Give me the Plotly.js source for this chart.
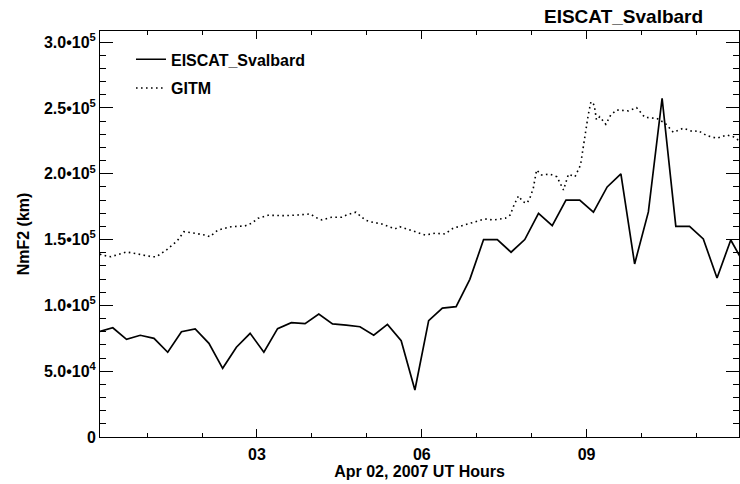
<!DOCTYPE html>
<html>
<head>
<meta charset="utf-8">
<script src="https://cdn.plot.ly/plotly-3.0.1.min.js"></script>
<style>html,body{margin:0;padding:0;background:#fff;}#chart{width:740px;height:484px;}</style>
</head>
<body>
<div id="chart"></div>
<script>
// EISCAT_Svalbard observations (UT hours, NmF2)
const eiscatHours = [0.125,0.375,0.625,0.875,1.125,1.375,1.625,1.875,2.125,2.375,2.625,2.875,
  3.125,3.375,3.625,3.875,4.125,4.375,4.625,4.875,5.125,5.375,5.625,5.875,
  6.125,6.375,6.625,6.875,7.125,7.375,7.625,7.875,8.125,8.375,8.625,8.875,
  9.125,9.375,9.625,9.875,10.125,10.375,10.625,10.875,11.125,11.375,11.625,11.875];
const eiscatValues = [80000,83000,74200,77300,75000,64400,80000,82100,71200,52200,68200,78800,
  64400,82300,86900,86100,93500,85900,85000,83800,77300,85600,73200,35700,
  88400,98000,99000,119800,150000,150000,140400,150000,170000,160600,180000,180000,
  170800,190000,200000,131500,171000,257400,160000,160000,150500,120800,149700,131000];

// GITM model (UT hours, NmF2)
const gitmHours = [0.14,0.17,0.34,0.44,0.62,0.80,0.98,1.08,1.17,1.35,1.55,1.67,1.87,2.05,2.14,2.29,
  2.53,2.78,2.90,3.02,3.20,3.50,3.75,3.90,3.97,4.06,4.18,4.36,4.54,4.63,4.80,4.97,5.06,5.27,
  5.51,5.60,5.79,6.06,6.24,6.42,6.57,6.82,7.15,7.30,7.52,7.61,7.68,7.76,7.84,7.91,7.96,
  8.03,8.09,8.18,8.33,8.46,8.58,8.67,8.79,8.89,8.97,9.03,9.08,9.14,9.18,9.24,9.35,9.44,
  9.55,9.76,9.91,10.06,10.28,10.43,10.58,10.76,10.94,11.03,11.19,11.37,11.55,11.67,11.76,11.80];
const gitmValues = [139000,138300,137000,138300,140600,139300,137600,137000,137000,142100,149200,156000,
  154800,153500,152200,157300,159800,160400,162400,166200,168500,168200,168700,169500,169500,167000,
  164900,167000,167000,168700,170800,164900,163600,161900,158100,159800,157300,153500,154800,154300,
  158600,161900,165700,164900,166200,168700,176300,183200,178800,177600,180600,
  189000,202900,199100,199700,197800,187700,199700,197800,206700,229500,244700,254800,252300,
  240900,243400,237600,244700,248500,247800,250300,242900,242100,238400,231500,234600,232000,
  232800,229000,227000,229500,228200,225700,225000];

const yTickVals = [0,50000,100000,150000,200000,250000,300000];
const yTickText = ['0','5.0\u202210<sup>4</sup>','1.0\u202210<sup>5</sup>','1.5\u202210<sup>5</sup>',
  '2.0\u202210<sup>5</sup>','2.5\u202210<sup>5</sup>','3.0\u202210<sup>5</sup>'];
const xTickVals = [3,6,9];
const xTickText = ['03','06','09'];

const FONT = 'Liberation Sans, Arial, Helvetica, sans-serif';

const traces = [
  {x: eiscatHours, y: eiscatValues, type: 'scatter', mode: 'lines', name: 'EISCAT_Svalbard',
   legendgroup: 'a', line: {color: '#000', width: 1.7}},
  {x: gitmHours, y: gitmValues, type: 'scatter', mode: 'lines', name: 'GITM',
   legendgroup: 'b', line: {color: '#000', width: 1.6, dash: '1.6px,3.4px'}}
];

const axisCommon = {
  showgrid: false, zeroline: false, showline: true, linecolor: '#000', linewidth: 1,
  mirror: 'allticks', ticks: 'inside', tickcolor: '#000', tickwidth: 1,
  tickfont: {family: FONT, size: 16, color: '#000', weight: 'bold'}
};

const layout = {
  width: 740, height: 484,
  margin: {l: 100, r: 1, t: 31, b: 47},
  paper_bgcolor: '#fff', plot_bgcolor: '#fff',
  showlegend: true,
  legend: {x: 0.0485, y: 0.972, xanchor: 'left', yanchor: 'top', bgcolor: 'rgba(0,0,0,0)',
    font: {family: FONT, size: 16, color: '#000', weight: 'bold'},
    traceorder: 'grouped', tracegroupgap: 5},
  xaxis: Object.assign({}, axisCommon, {
    range: [0.142, 11.775], tickmode: 'array', tickvals: xTickVals, ticktext: xTickText,
    ticklen: 8, ticklabelstandoff: 3,
    minor: {dtick: 1, tick0: 0, ticks: 'inside', ticklen: 4, tickcolor: '#000', tickwidth: 1},
    title: {text: 'Apr 02, 2007 UT Hours', standoff: 0,
      font: {family: FONT, size: 16, color: '#000', weight: 'bold'}}
  }),
  yaxis: Object.assign({}, axisCommon, {
    range: [0, 308500], tickmode: 'array', tickvals: yTickVals, ticktext: yTickText,
    ticklen: 13,
    minor: {dtick: 10000, tick0: 0, ticks: 'inside', ticklen: 6, tickcolor: '#000', tickwidth: 1},
    title: {text: 'NmF2 (km)', standoff: 10,
      font: {family: FONT, size: 16, color: '#000', weight: 'bold'}}
  }),
  annotations: [{
    text: 'EISCAT_Svalbard', xref: 'paper', yref: 'paper', x: 0.947, y: 1.0345,
    xanchor: 'right', yanchor: 'middle', showarrow: false,
    font: {family: FONT, size: 19, color: '#000', weight: 'bold'}
  }]
};

Plotly.newPlot('chart', traces, layout, {displayModeBar: false, staticPlot: true});
</script>
</body>
</html>
